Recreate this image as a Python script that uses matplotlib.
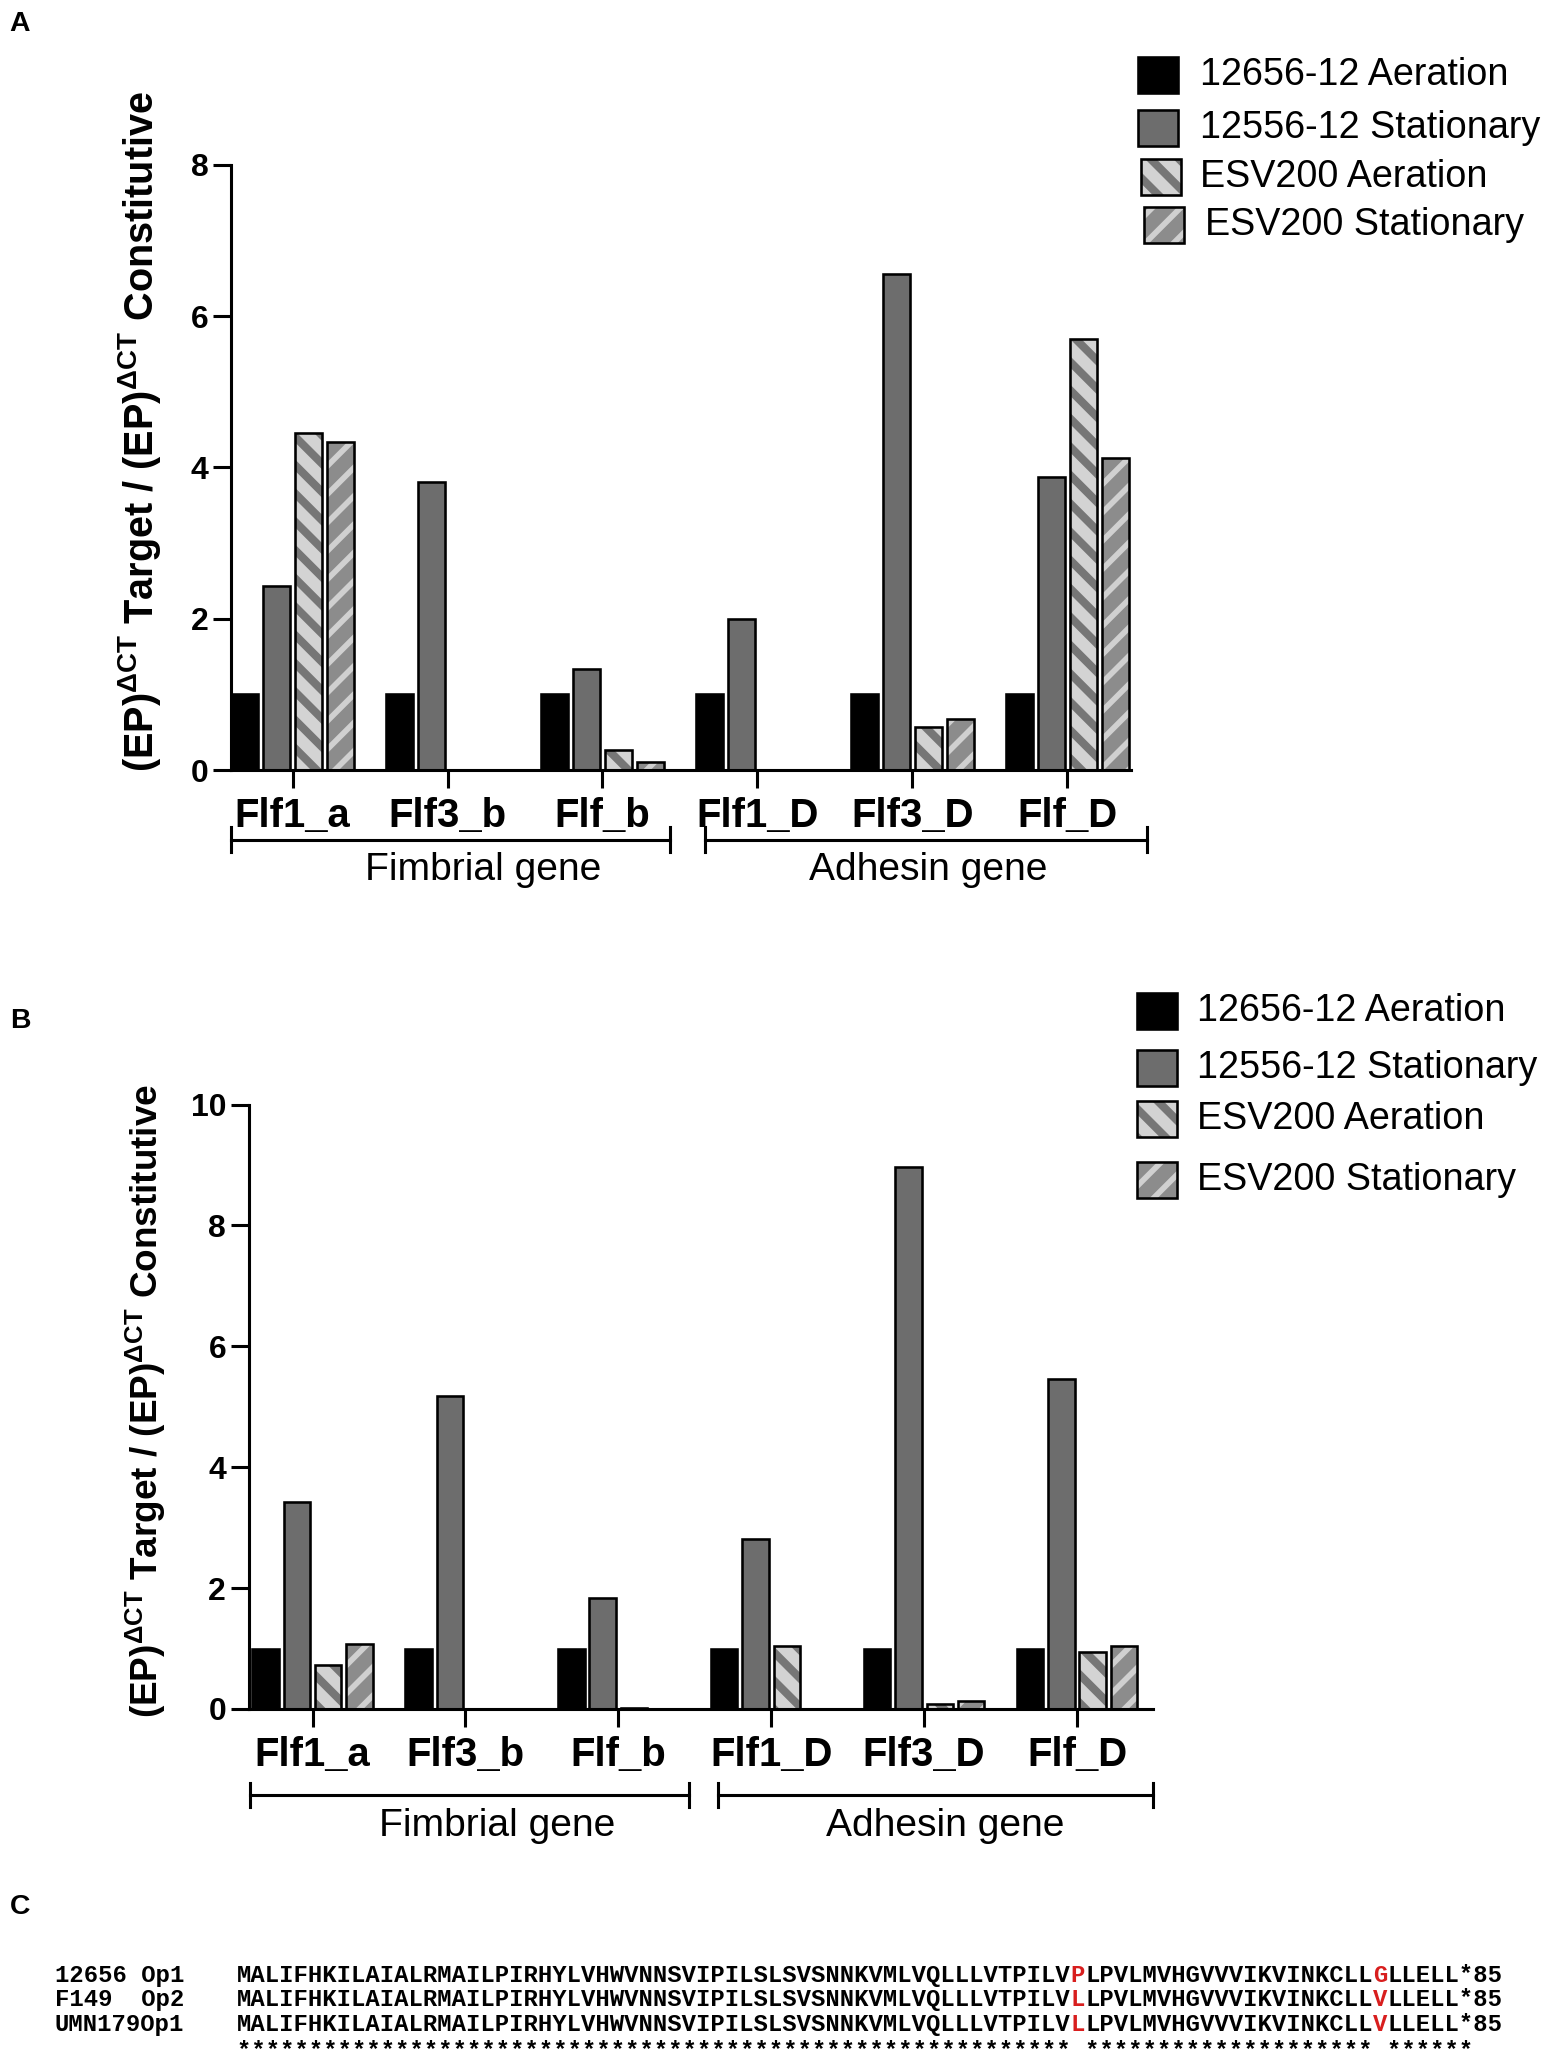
import matplotlib
matplotlib.use("Agg")
from matplotlib import pyplot as plt
from matplotlib.patches import Rectangle
import numpy as np

# ---- data ----
genes = ["Flf1_a", "Flf3_b", "Flf_b", "Flf1_D", "Flf3_D", "Flf_D"]
series = ["12656-12 Aeration", "12556-12 Stationary", "ESV200 Aeration", "ESV200 Stationary"]
group_labels = ["Fimbrial gene", "Adhesin gene"]

# panel A
a_aer_12656 = [1.0, 1.0, 1.0, 1.0, 1.0, 1.0]
a_stat_12556 = [2.43, 3.81, 1.34, 1.99, 6.55, 3.87]
a_aer_esv = [4.46, 0.0, 0.27, 0.0, 0.57, 5.70]
a_stat_esv = [4.34, 0.0, 0.10, 0.0, 0.67, 4.12]

# panel B
b_aer_12656 = [1.0, 1.0, 1.0, 1.0, 1.0, 1.0]
b_stat_12556 = [3.42, 5.18, 1.84, 2.81, 8.97, 5.46]
b_aer_esv = [0.73, 0.0, 0.02, 1.04, 0.08, 0.95]
b_stat_esv = [1.08, 0.0, 0.0, 0.0, 0.14, 1.04]

# panel C
strains = ["12656 Op1", "F149  Op2", "UMN179Op1"]
seq_head = "MALIFHKILAIALRMAILPIRHYLVHWVNNSVIPILSLSVSNNKVMLVQLLLVTPILV"
site1 = ["P", "L", "L"]
seq_mid = "LPVLMVHGVVVIKVINKCLL"
site2 = ["G", "V", "V"]
seq_tail = "LLELL*85"
consensus = "*" * 58 + " " + "*" * 20 + " " + "*" * 6

# ---- style ----
W, H, DPI = 1562, 2067, 170
plt.rcParams["font.family"] = ["Liberation Sans", "DejaVu Sans"]
plt.rcParams["mathtext.fontset"] = "custom"
plt.rcParams["mathtext.bf"] = "Liberation Sans:bold"
plt.rcParams["mathtext.rm"] = "Liberation Sans"
plt.rcParams["hatch.linewidth"] = 3.0

fills = ["#000000", "#6d6d6d", "#d3d3d3", "#8c8c8c"]
stripes = [None, None, "#767676", "#d0d0d0"]
hatches = [None, None, "\\\\", "//"]
hatch_lw = [0, 0, 3.4, 2.4]


def fx(x):
    return x / W


def fy(y):
    return 1 - y / H


fig = plt.figure(figsize=(W / DPI, H / DPI), dpi=DPI)


def set_hlw(patch, lw):
    try:
        patch.set_hatch_linewidth(lw)
    except AttributeError:
        pass


def draw_panel(rect, xlim, ylim, yticks, values, bw, step, brk_y, lab_y, brackets, lab_x):
    ax = fig.add_axes(rect)
    x = np.arange(len(genes))
    for i, vals in enumerate(values):
        pos = x + (i - 1.5) * step
        if hatches[i]:
            bars = ax.bar(pos, vals, bw, color=fills[i], edgecolor=stripes[i],
                          linewidth=0, hatch=hatches[i])
            for b in bars:
                set_hlw(b, hatch_lw[i])
        else:
            ax.bar(pos, vals, bw, color=fills[i], linewidth=0)
        ax.bar(pos, vals, bw, facecolor="none", edgecolor="black", linewidth=1.1)

    ax.set_xlim(*xlim)
    ax.set_ylim(*ylim)
    ax.set_yticks(yticks)
    ax.set_xticks(x)
    ax.set_xticklabels(genes, fontsize=17, fontweight="bold")
    for t in ax.get_yticklabels():
        t.set_fontsize(13.5)
        t.set_fontweight("bold")
    ax.tick_params(axis="both", direction="out", length=7.5, width=1.3, pad=2)
    ax.tick_params(axis="x", pad=4)
    for s in ["top", "right"]:
        ax.spines[s].set_visible(False)
    for s in ["left", "bottom"]:
        ax.spines[s].set_linewidth(1.3)

    tr = ax.get_xaxis_transform()
    for (x0, x1), lx, lab in zip(brackets, lab_x, group_labels):
        ax.plot([x0, x1], [brk_y, brk_y], color="black", lw=1.3, transform=tr, clip_on=False)
        for xe in (x0, x1):
            ax.plot([xe, xe], [brk_y - 0.02, brk_y + 0.02], color="black", lw=1.3,
                    transform=tr, clip_on=False)
        ax.text(lx, lab_y, lab, transform=tr, ha="center", va="center", fontsize=16.5)
    return ax


draw_panel([fx(231), fy(770), (1131 - 231) / W, (770 - 164.8) / H],
           (-0.397, 5.41), (0, 8), [0, 2, 4, 6, 8],
           [a_aer_12656, a_stat_12556, a_aer_esv, a_stat_esv],
           0.17, 0.206, -0.115, -0.165,
           [(-0.397, 2.435), (2.661, 5.513)], [1.23, 4.10])

draw_panel([fx(248.5), fy(1709), (1153 - 248.5) / W, (1709 - 1104.5) / H],
           (-0.419, 5.497), (0, 10), [0, 2, 4, 6, 8, 10],
           [b_aer_12656, b_stat_12556, b_aer_esv, b_stat_esv],
           0.173, 0.205, -0.142, -0.193,
           [(-0.409, 2.465), (2.649, 5.497)], [1.21, 4.14])

ylabel = r"(EP)$^{\mathbf{\Delta CT}}$ Target / (EP)$^{\mathbf{\Delta CT}}$ Constitutive"
fig.text(fx(140), fy(432), ylabel, rotation=90, ha="center", va="center",
         fontsize=16.8, fontweight="bold")
fig.text(fx(146), fy(1401), ylabel, rotation=90, ha="center", va="center",
         fontsize=15.6, fontweight="bold")


# legends
def draw_legend(sq_x, rows, txt_x):
    for i, (yc, lab) in enumerate(zip(rows, series)):
        sx = sq_x[i]
        r = Rectangle((fx(sx), fy(yc + 18)), 40 / W, 36 / H, transform=fig.transFigure,
                      facecolor=fills[i], edgecolor=stripes[i] or fills[i], linewidth=0,
                      hatch=hatches[i])
        set_hlw(r, hatch_lw[i])
        fig.add_artist(r)
        fig.add_artist(Rectangle((fx(sx), fy(yc + 18)), 40 / W, 36 / H,
                                 transform=fig.transFigure, facecolor="none",
                                 edgecolor="black", linewidth=1.1))
        fig.text(fx(txt_x[i]), fy(yc), lab, ha="left", va="center", fontsize=16)


draw_legend([1138, 1138, 1141, 1144], [75, 128, 177, 225], [1200, 1200, 1200, 1205])
draw_legend([1137, 1137, 1137, 1137], [1011, 1068, 1119, 1180], [1197, 1197, 1197, 1197])

# panel letters
for lab, (x, y) in zip("ABC", [(20, 24), (20, 1021), (20, 1907)]):
    fig.text(fx(x), fy(y), lab, ha="center", va="center", fontsize=12, fontweight="bold")

# panel C alignment
fs = 10.1
mono = dict(family="Liberation Mono", fontweight="bold", fontsize=fs)
renderer = fig.canvas.get_renderer()
probe_a = fig.text(0, 0, "M" * 10, **mono)
probe_b = fig.text(0, 0, "M" * 60, **mono)
adv = (probe_b.get_window_extent(renderer).width
       - probe_a.get_window_extent(renderer).width) / 50
probe_a.remove()
probe_b.remove()

x0 = 237
base_rows = [1982, 2006, 2031]
i1 = len(seq_head)
i2 = i1 + 1 + len(seq_mid)
for k, name in enumerate(strains):
    yb = base_rows[k]
    fig.text(fx(55), fy(yb), name, ha="left", va="baseline", **mono)
    for start, seg in ((0, seq_head), (i1 + 1, seq_mid), (i2 + 1, seq_tail)):
        fig.text(fx(x0 + start * adv), fy(yb), seg, ha="left", va="baseline", **mono)
    for idx, ch in ((i1, site1[k]), (i2, site2[k])):
        fig.text(fx(x0 + (idx + 0.5) * adv), fy(yb), ch, ha="center", va="baseline",
                 color="#d81e1e", **mono)
fig.text(fx(x0), fy(2058), consensus, ha="left", va="baseline", **mono)

fig.savefig("out.png", dpi=DPI)
